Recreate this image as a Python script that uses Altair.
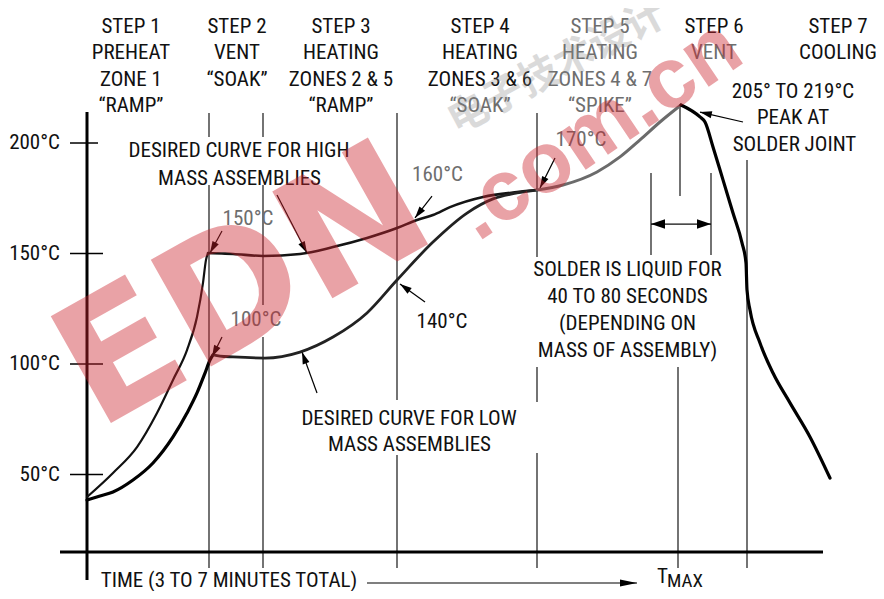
import math
import altair as alt
import pandas as pd

# ------------------------------------------------------------------
# Reflow profile (time in arbitrary units from the start, temperature in °C)
# ------------------------------------------------------------------
high_ramp_time = [0, 26, 50, 70, 86, 100, 110, 116, 119, 121]
high_ramp_temp = [39.8, 50.7, 62.4, 77.8, 92.8, 106.3, 121.3, 136.7, 147.1, 150.2]

high_soak_time = [121, 135, 146, 176, 213, 246, 280, 310, 330, 346, 363, 396, 430, 450]
high_soak_temp = [150.2, 150.0, 149.8, 148.9, 149.8, 152.9, 157.0, 161.5, 165.2, 167.4,
                  171.0, 175.6, 177.8, 178.7]

low_ramp_time = [0, 13, 26, 46, 66, 86, 100, 110, 118, 123, 126]
low_ramp_temp = [38.5, 40.3, 42.1, 47.5, 55.2, 67.0, 77.8, 86.9, 95.9, 101.8, 104.1]

low_soak_time = [126, 133, 146, 178, 213, 246, 280, 310, 346, 380, 406, 430, 450]
low_soak_temp = [104.1, 103.6, 103.2, 102.7, 105.4, 112.2, 123.1, 138.0, 155.2, 168.3,
                 174.7, 177.4, 178.7]

spike_time = [450, 476, 510, 533, 553, 573, 594]
spike_temp = [178.7, 181.0, 186.9, 193.7, 201.4, 209.5, 217.2]

cool_time = [594, 613, 618, 626, 636, 646, 655, 659, 660, 663, 673, 686, 703, 723, 743]
cool_temp = [217.2, 211.8, 209.5, 198.2, 183.3, 168.3, 154.8, 145.7, 133.5, 124.4,
             109.5, 95.9, 82.4, 67.0, 48.4]

# y-axis tick values and labels
tick_temps = [200, 150, 100, 50]
tick_labels = ["200°C", "150°C", "100°C", "50°C"]

# step headers
step_times = [44, 150, 254, 393, 513, 627, 751]
step_texts = [
    ["STEP 1", "PREHEAT", "ZONE 1", "“RAMP”"],
    ["STEP 2", "VENT", "“SOAK”"],
    ["STEP 3", "HEATING", "ZONES 2 & 5", "“RAMP”"],
    ["STEP 4", "HEATING", "ZONES 3 & 6", "“SOAK”"],
    ["STEP 5", "HEATING", "ZONES 4 & 7", "“SPIKE”"],
    ["STEP 6", "VENT"],
    ["STEP 7", "COOLING"],
]

# ------------------------------------------------------------------
# geometry / style
# ------------------------------------------------------------------
W, H = 868, 583
X_DOMAIN = [-79, 789]
Y_DOMAIN = [-2.715, 261.09]
SX = W / (X_DOMAIN[1] - X_DOMAIN[0])
SY = H / (Y_DOMAIN[1] - Y_DOMAIN[0])
FONT = "Roboto Condensed, Liberation Sans Narrow, Arial Narrow, Roboto, sans-serif"
FS = 21
XS = alt.Scale(domain=X_DOMAIN)
YS = alt.Scale(domain=Y_DOMAIN)

# ---------------- curves ----------------
segments = [
    ("high_ramp", high_ramp_time, high_ramp_temp, "#111111", 2.2),
    ("high_soak", high_soak_time, high_soak_temp, "#151515", 2.6),
    ("low_ramp", low_ramp_time, low_ramp_temp, "#000000", 3.2),
    ("low_soak", low_soak_time, low_soak_temp, "#222222", 2.8),
    ("spike", spike_time, spike_temp, "#6b6b6b", 3.0),
    ("cool", cool_time, cool_temp, "#000000", 3.2),
]
rows = []
for name, ts, vs, col, w in segments:
    for i, (t, v) in enumerate(zip(ts, vs)):
        rows.append({"seg": name, "i": i, "t": t, "T": v, "col": col, "w": w})
curve_df = pd.DataFrame(rows)

curves = alt.Chart(curve_df).mark_line(interpolate="monotone", strokeCap="round",
                                       strokeJoin="round").encode(
    x=alt.X("t:Q", scale=XS, axis=None),
    y=alt.Y("T:Q", scale=YS, axis=None),
    detail="seg:N",
    order="i:Q",
    color=alt.Color("col:N", scale=None),
    strokeWidth=alt.StrokeWidth("w:Q", scale=None),
)

# ---------------- rules: axes, ticks, guide lines ----------------
rule_rows = []
# axes
rule_rows.append({"t": 0, "T": 214.0, "t2": 0, "T2": 2.3, "w": 3.0})
rule_rows.append({"t": -27, "T": 14.9, "t2": 736, "T2": 14.9, "w": 3.0})
# ticks
for v, x2 in zip(tick_temps, [11, 16, 16, 16]):
    rule_rows.append({"t": -17, "T": v, "t2": x2, "T2": v, "w": 1.5})
# vertical guides (time, top, bottom)
guides = [
    (122, 213.6, 202.7), (122, 181.0, 7.7),
    (176, 213.6, 202.7), (176, 181.0, 126.7), (176, 112.2, 7.7),
    (310, 213.6, 83.7), (310, 58.8, 7.7),
    (450, 213.6, 148.4), (450, 98.6, 82.8), (450, 59.7, 7.7),
    (593, 217.2, 176.0), (591, 98.6, 7.7),
    (660, 192.3, 7.7),
    (564, 186.4, 149.3), (624, 186.4, 149.3),
]
for t, a, b in guides:
    rule_rows.append({"t": t, "T": a, "t2": t, "T2": b, "w": 1.1})

# arrows: (from_t, from_T, to_t, to_T, head kind)
arrows = [
    (190, 176.5, 220, 150.2, "lead"),
    (135, 160.2, 123, 150.2, "lead"),
    (345, 176.0, 328, 166.1, "lead"),
    (468, 193.2, 453, 179.6, "lead"),
    (135, 112.2, 125, 103.2, "lead"),
    (338, 128.1, 313, 136.2, "lead"),
    (230, 86.9, 215, 105.4, "lead"),
    (656, 209.5, 613, 214.0, "lead"),
    (280, 0.9, 550, 0.9, "time"),
    (594, 163.3, 564, 163.3, "span"),
    (594, 163.3, 624, 163.3, "span"),
]
heads = {
    "lead": ("M0,0L-0.6,2L0.6,2Z", 140),
    "time": ("M0,0L-0.42,2L0.42,2Z", 290),
    "span": ("M0,0L-0.68,2L0.68,2Z", 196),
}
head_rows = []
for t1, v1, t2, v2, kind in arrows:
    rule_rows.append({"t": t1, "T": v1, "t2": t2, "T2": v2, "w": 1.2})
    dx = (t2 - t1) * SX
    dy = -(v2 - v1) * SY
    ang = math.degrees(math.atan2(dx, -dy)) % 360
    path, size = heads[kind]
    head_rows.append({"t": t2, "T": v2, "ang": ang, "shape": path, "size": size})

rule_df = pd.DataFrame(rule_rows)
rules = alt.Chart(rule_df).mark_rule(color="#000000").encode(
    x=alt.X("t:Q", scale=XS, axis=None),
    y=alt.Y("T:Q", scale=YS, axis=None),
    x2="t2:Q",
    y2="T2:Q",
    strokeWidth=alt.StrokeWidth("w:Q", scale=None),
)

head_df = pd.DataFrame(head_rows)
arrowheads = alt.Chart(head_df).mark_point(filled=True, color="#000000", opacity=1,
                                           strokeWidth=0).encode(
    x=alt.X("t:Q", scale=XS, axis=None),
    y=alt.Y("T:Q", scale=YS, axis=None),
    angle=alt.Angle("ang:Q", scale=None),
    shape=alt.Shape("shape:N", scale=None),
    size=alt.Size("size:Q", scale=None),
)

# ---------------- texts ----------------
GRAY = "#6e6e6e"
BLACK = "#111111"
header_T = [252.5, 240.7, 228.5, 216.7]
text_rows = []
for si, (t, lines) in enumerate(zip(step_times, step_texts)):
    for li, s in enumerate(lines):
        col = BLACK
        if si == 4 or (si == 3 and li == 3) or (si == 5 and li == 1):
            col = GRAY
        text_rows.append({"t": t, "T": header_T[li], "label": s, "col": col})

notes = [
    ("DESIRED CURVE FOR HIGH", 152, 196.2, BLACK),
    ("MASS ASSEMBLIES", 152.5, 183.9, BLACK),
    ("150°C", 161, 165.4, GRAY),
    ("160°C", 350.5, 185.5, GRAY),
    ("170°C", 494, 201.4, GRAY),
    ("100°C", 169, 119.9, GRAY),
    ("140°C", 355, 118.8, BLACK),
    ("DESIRED CURVE FOR LOW", 322, 75.3, BLACK),
    ("MASS ASSEMBLIES", 322.5, 63.3, BLACK),
    ("SOLDER IS LIQUID FOR", 540.5, 142.5, BLACK),
    ("40 TO 80 SECONDS", 540.5, 130.3, BLACK),
    ("(DEPENDING ON", 540.5, 118.1, BLACK),
    ("MASS OF ASSEMBLY)", 540.5, 105.7, BLACK),
    ("205° TO 219°C", 706, 222.9, BLACK),
    ("PEAK AT", 706, 211.3, BLACK),
    ("SOLDER JOINT", 707.5, 199.1, BLACK),
    ("TIME (3 TO 7 MINUTES TOTAL)", 142, 2.0, BLACK),
]
for s, t, v, col in notes:
    text_rows.append({"t": t, "T": v, "label": s, "col": col})
center_df = pd.DataFrame(text_rows)

def text_layer(df, align, size=FS):
    return alt.Chart(df).mark_text(font=FONT, fontSize=size, align=align,
                                   baseline="middle").encode(
        x=alt.X("t:Q", scale=XS, axis=None),
        y=alt.Y("T:Q", scale=YS, axis=None),
        text="label:N",
        color=alt.Color("col:N", scale=None),
    )

center_text = text_layer(center_df, "center")
ylab_df = pd.DataFrame({"t": [-27] * 4, "T": tick_temps, "label": tick_labels,
                        "col": [BLACK] * 4})
ylab_text = text_layer(ylab_df, "right")
t_df = pd.DataFrame({"t": [570], "T": [3.6], "label": ["T"], "col": [BLACK]})
t_text = text_layer(t_df, "left")
max_df = pd.DataFrame({"t": [580], "T": [2.0], "label": ["MAX"], "col": [BLACK]})
max_text = text_layer(max_df, "left", size=19)

# ---------------- watermark ----------------
wm_df = pd.DataFrame({"t": [158], "T": [133.5], "label": ["EDN"]})
wm_logo = alt.Chart(wm_df).mark_text(font="DejaVu Sans", fontWeight="bold", fontSize=168,
                                     angle=330.6, color="#cd232d", opacity=0.42,
                                     align="center", baseline="middle").encode(
    x=alt.X("t:Q", scale=XS, axis=None),
    y=alt.Y("T:Q", scale=YS, axis=None),
    text="label:N",
)
wm2_df = pd.DataFrame({"t": [511], "T": [205.9], "label": [".com.cn"]})
wm_site = alt.Chart(wm2_df).mark_text(font="Liberation Sans", fontWeight="bold", fontSize=86,
                                      angle=326, color="#cd232d", opacity=0.42,
                                      align="center", baseline="middle").encode(
    x=alt.X("t:Q", scale=XS, axis=None),
    y=alt.Y("T:Q", scale=YS, axis=None),
    text="label:N",
)
wm3_df = pd.DataFrame({"t": [470], "T": [234.0], "label": ["电子技术设计"]})
wm_cn = alt.Chart(wm3_df).mark_text(font="Noto Sans CJK SC", fontWeight="bold", fontSize=40,
                                    angle=332, color="#888888", opacity=0.3,
                                    align="center", baseline="middle").encode(
    x=alt.X("t:Q", scale=XS, axis=None),
    y=alt.Y("T:Q", scale=YS, axis=None),
    text="label:N",
)

chart = alt.layer(
    rules, curves, arrowheads, center_text, ylab_text, t_text, max_text,
    wm_cn, wm_logo, wm_site,
).properties(
    width=W, height=H, padding=0, autosize="none", background="white",
).configure_view(stroke=None)

chart.save("out.html", embed_options={"renderer": "svg", "actions": False})
